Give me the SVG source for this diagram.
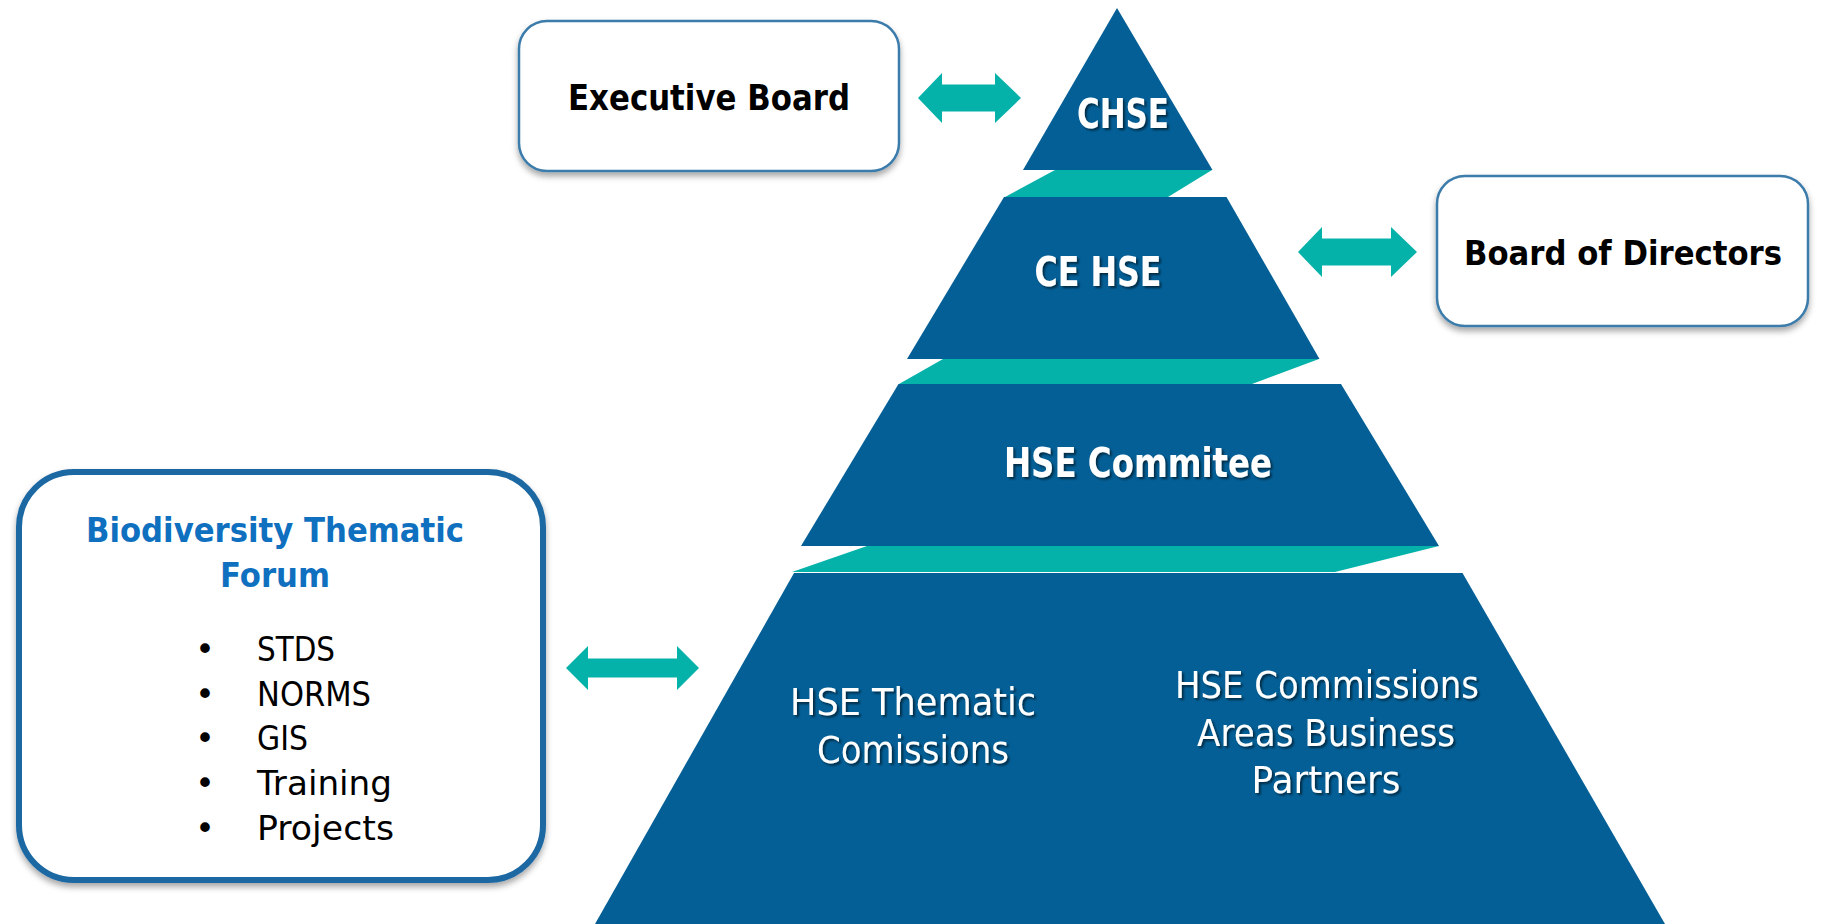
<svg xmlns="http://www.w3.org/2000/svg" width="1821" height="924" viewBox="0 0 1821 924">
  <defs>
    <filter id="boxShadow" x="-10%" y="-10%" width="120%" height="130%">
      <feDropShadow dx="0" dy="4" stdDeviation="3" flood-color="#000" flood-opacity="0.35"/>
    </filter>
    <filter id="txtShadow" x="-10%" y="-20%" width="120%" height="150%">
      <feDropShadow dx="2" dy="2" stdDeviation="1" flood-color="#000" flood-opacity="0.55"/>
    </filter>
    <style>
      .tier { fill: #035f96; }
      .band { fill: #04b2aa; }
      .arrow { fill: #04b2aa; }
      .box { fill: #ffffff; stroke: #3a7bab; stroke-width: 2.5; filter: url(#boxShadow); }
      .forum { fill: #ffffff; stroke: #1d67a3; stroke-width: 6; filter: url(#boxShadow); }
      .hdr { font-family: "DejaVu Sans", Verdana, sans-serif; font-weight: bold; text-anchor: middle; fill: #000; }
      .tierB { font-family: "DejaVu Sans", Verdana, sans-serif; font-weight: bold; text-anchor: middle; fill: #fff; filter: url(#txtShadow); }
      .tierR { font-family: "DejaVu Sans", Verdana, sans-serif; text-anchor: middle; fill: #fff; filter: url(#txtShadow); }
      .ftitle { font-family: "DejaVu Sans", Verdana, sans-serif; font-weight: bold; text-anchor: middle; fill: #0f70c0; }
      .item { font-family: "DejaVu Sans", Verdana, sans-serif; fill: #000; }
      .bul { font-family: "DejaVu Sans", Verdana, sans-serif; fill: #000; text-anchor: middle; }
    </style>
  </defs>
  <rect width="1821" height="924" fill="#ffffff"/>

  <g id="pyramid-bands">
    <polygon class="band" points="1055,170 1212,170 1168,197 1005,197"/>
    <polygon class="band" points="943,359 1319,359 1252,384 899,384"/>
    <polygon class="band" points="867,546 1439,546 1335,572 792,572"/>
  </g>

  <g id="chse">
    <polygon class="tier" points="1117,8 1212.5,170 1023,170"/>
    <text class="tierB" x="1123" y="128" font-size="40" textLength="92" lengthAdjust="spacingAndGlyphs">CHSE</text>
  </g>

  <g id="ce-hse">
    <polygon class="tier" points="1004,197 1226.5,197 1319.5,359 907,359"/>
    <text class="tierB" x="1098" y="286" font-size="40" textLength="127" lengthAdjust="spacingAndGlyphs">CE HSE</text>
  </g>

  <g id="hse-commitee">
    <polygon class="tier" points="898.5,384 1341,384 1439,546 801,546"/>
    <text class="tierB" x="1138" y="477" font-size="40" textLength="268" lengthAdjust="spacingAndGlyphs">HSE Commitee</text>
  </g>

  <g id="hse-commissions">
    <polygon class="tier" points="794,573 1462.5,573 1665,924 595,924"/>
    <text class="tierR" x="913" y="715" font-size="37" textLength="246" lengthAdjust="spacingAndGlyphs">HSE Thematic</text>
    <text class="tierR" x="913" y="763" font-size="37" textLength="192" lengthAdjust="spacingAndGlyphs">Comissions</text>
    <text class="tierR" x="1327" y="698" font-size="37" textLength="304" lengthAdjust="spacingAndGlyphs">HSE Commissions</text>
    <text class="tierR" x="1326" y="746" font-size="37" textLength="258" lengthAdjust="spacingAndGlyphs">Areas Business</text>
    <text class="tierR" x="1326" y="793" font-size="37" textLength="149" lengthAdjust="spacingAndGlyphs">Partners</text>
  </g>

  <g id="executive-board">
    <rect class="box" x="519" y="21" width="380" height="150" rx="28"/>
    <text class="hdr" x="709" y="110" font-size="35" textLength="282" lengthAdjust="spacingAndGlyphs">Executive Board</text>
  </g>

  <g id="board-of-directors">
    <rect class="box" x="1437" y="176" width="371" height="150" rx="28"/>
    <text class="hdr" x="1623" y="265" font-size="34" textLength="318" lengthAdjust="spacingAndGlyphs">Board of Directors</text>
  </g>

  <g id="biodiversity-forum">
    <rect class="forum" x="19" y="472" width="524" height="408" rx="55"/>
    <text class="ftitle" x="275" y="542" font-size="34" textLength="378" lengthAdjust="spacingAndGlyphs">Biodiversity Thematic</text>
    <text class="ftitle" x="275" y="587" font-size="34" textLength="110" lengthAdjust="spacingAndGlyphs">Forum</text>
    <text class="bul" x="205" y="661" font-size="33">•</text>
    <text class="item" x="257" y="661" font-size="33" textLength="78" lengthAdjust="spacingAndGlyphs">STDS</text>
    <text class="bul" x="205" y="706" font-size="33">•</text>
    <text class="item" x="257" y="706" font-size="33" textLength="114" lengthAdjust="spacingAndGlyphs">NORMS</text>
    <text class="bul" x="205" y="750" font-size="33">•</text>
    <text class="item" x="257" y="750" font-size="33" textLength="51" lengthAdjust="spacingAndGlyphs">GIS</text>
    <text class="bul" x="205" y="795" font-size="33">•</text>
    <text class="item" x="257" y="795" font-size="33" textLength="135" lengthAdjust="spacingAndGlyphs">Training</text>
    <text class="bul" x="205" y="840" font-size="33">•</text>
    <text class="item" x="257" y="840" font-size="33" textLength="137" lengthAdjust="spacingAndGlyphs">Projects</text>
  </g>

  <g id="connectors">
    <polygon class="arrow" points="918,98 942,73 942,84.5 995,84.5 995,73 1021,98 995,123 995,111.5 942,111.5 942,123"/>
    <polygon class="arrow" points="1298,252 1322,227 1322,238.5 1391,238.5 1391,227 1417,252 1391,277 1391,265.5 1322,265.5 1322,277"/>
    <polygon class="arrow" points="566,668 588,646 588,658.5 677,658.5 677,646 699,668 677,690 677,677.5 588,677.5 588,690"/>
  </g>
</svg>
